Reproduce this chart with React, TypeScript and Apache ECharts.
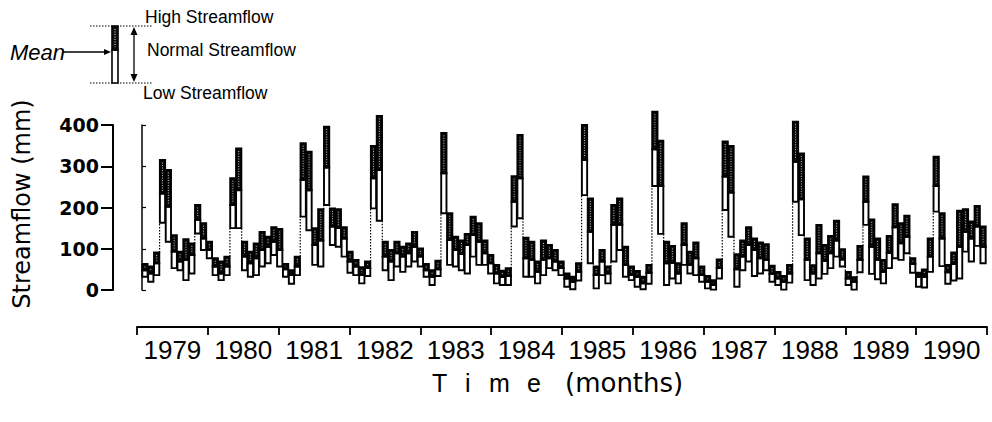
import React, { useEffect, useRef } from "react";
import * as echarts from "echarts";

const years = ["1979", "1980", "1981", "1982", "1983", "1984", "1985", "1986", "1987", "1988", "1989", "1990"];
const yTicks = [0, 100, 200, 300, 400];

// Monthly high streamflow (mm), Jan 1979 .. Dec 1990
const high = [
  63, 57, 91, 315, 291, 133, 93, 123, 113, 206, 162, 117,
  77, 69, 81, 271, 343, 117, 93, 113, 141, 129, 152, 148,
  63, 48, 81, 356, 335, 150, 196, 396, 198, 196, 152, 93,
  73, 55, 69, 349, 422, 117, 97, 117, 105, 113, 141, 101,
  63, 48, 71, 381, 186, 129, 120, 136, 178, 162, 120, 85,
  61, 47, 53, 276, 376, 127, 117, 69, 120, 109, 97, 69,
  40, 32, 65, 400, 222, 57, 97, 57, 206, 222, 105, 57,
  46, 32, 61, 432, 362, 117, 107, 65, 162, 93, 115, 57,
  34, 24, 74, 360, 349, 87, 120, 152, 125, 115, 111, 59,
  44, 34, 61, 408, 331, 125, 60, 158, 109, 131, 168, 99,
  44, 31, 107, 275, 171, 125, 73, 131, 208, 162, 180, 77,
  42, 50, 125, 323, 186, 61, 91, 192, 196, 166, 204, 154,
];

// Monthly mean streamflow (mm)
const mean = [
  48, 40, 65, 234, 202, 93, 69, 73, 85, 170, 125, 97,
  57, 40, 57, 206, 242, 81, 65, 77, 97, 105, 117, 97,
  50, 36, 57, 267, 242, 109, 120, 297, 154, 150, 125, 69,
  57, 36, 53, 271, 291, 81, 69, 89, 81, 89, 105, 81,
  48, 32, 50, 283, 121, 97, 87, 109, 133, 117, 89, 65,
  40, 32, 34, 214, 271, 77, 73, 44, 73, 77, 69, 53,
  28, 20, 44, 315, 141, 36, 69, 40, 158, 158, 61, 36,
  32, 16, 42, 341, 252, 65, 66, 40, 109, 61, 77, 36,
  20, 12, 53, 275, 236, 50, 81, 109, 97, 77, 73, 39,
  28, 20, 40, 311, 220, 73, 40, 89, 71, 89, 120, 74,
  28, 20, 73, 214, 105, 73, 44, 90, 152, 113, 129, 63,
  32, 32, 81, 252, 125, 43, 63, 105, 141, 125, 154, 105,
];

// Monthly low streamflow (mm)
const low = [
  32, 20, 36, 163, 117, 53, 48, 24, 40, 137, 97, 77,
  36, 24, 36, 150, 150, 48, 32, 36, 57, 65, 85, 57,
  32, 15, 36, 178, 145, 61, 57, 206, 109, 105, 81, 42,
  36, 16, 34, 198, 168, 48, 24, 57, 44, 57, 69, 57,
  32, 12, 34, 186, 61, 57, 48, 40, 81, 61, 61, 40,
  16, 12, 12, 154, 174, 32, 32, 16, 36, 53, 48, 36,
  8, 2, 23, 230, 65, 4, 36, 16, 69, 97, 32, 24,
  8, 2, 15, 252, 136, 12, 28, 16, 61, 40, 36, 20,
  4, 1, 28, 194, 129, 8, 48, 69, 34, 40, 48, 20,
  12, 1, 18, 214, 133, 24, 12, 28, 39, 53, 81, 57,
  12, 1, 43, 158, 39, 26, 16, 53, 77, 73, 89, 42,
  8, 6, 44, 190, 58, 15, 23, 28, 93, 69, 107, 65,
];

const months: string[] = [];
years.forEach((y) => {
  for (let m = 1; m <= 12; m++) months.push(`${y}-${m}`);
});

export default function App() {
  const ref = useRef<HTMLDivElement>(null);

  useEffect(() => {
    if (!ref.current) return;
    const chart = echarts.init(ref.current, undefined, { renderer: "svg" });

    const data = months.map((_, i) => [i, low[i], mean[i], high[i]]);

    const renderItem = (params: any, api: any) => {
      const i = params.dataIndex;
      const x = api.value(0);
      const pLow = api.coord([x, api.value(1)]);
      const pMean = api.coord([x, api.value(2)]);
      const pHigh = api.coord([x, api.value(3)]);
      const band = api.size([1, 0])[0];
      const bw = band * 0.9;
      const left = pLow[0] - bw / 2;
      const children: any[] = [];
      if (i > 0) {
        const pl = low[i - 1];
        const ph = high[i - 1];
        const bx = pLow[0] - band / 2;
        if (pl > high[i]) {
          children.push({
            type: "line",
            shape: { x1: bx, y1: api.coord([x, pl])[1], x2: bx, y2: pHigh[1] },
            style: { stroke: "#000", lineWidth: 1.2, lineDash: [1.5, 1.5] },
          });
        } else if (ph < low[i]) {
          children.push({
            type: "line",
            shape: { x1: bx, y1: api.coord([x, ph])[1], x2: bx, y2: pLow[1] },
            style: { stroke: "#000", lineWidth: 1.2, lineDash: [1.5, 1.5] },
          });
        }
      }
      children.push(
        {
          type: "rect",
          shape: { x: left, y: pMean[1], width: bw, height: pLow[1] - pMean[1] },
          style: { fill: "#fff", stroke: "#000", lineWidth: 1.9 },
        },
        {
          type: "rect",
          shape: { x: left, y: pHigh[1], width: bw, height: pMean[1] - pHigh[1] },
          style: { fill: "#0a0a0a", stroke: "#000", lineWidth: 1.9 },
        }
      );
      if (pMean[1] - pHigh[1] > 5) {
        children.push({
          type: "line",
          shape: { x1: pLow[0], y1: pHigh[1] + 2.5, x2: pLow[0], y2: pMean[1] - 2.5 },
          style: { stroke: "#fff", lineWidth: 0.9, lineDash: [1, 1.5], opacity: 0.8 },
        });
      }
      return { type: "group", children };
    };

    const black = "#000";
    const legendFont = "Liberation Sans, Arial, sans-serif";

    chart.setOption({
      animation: false,
      backgroundColor: "#fff",
      grid: [
        { left: 142, right: 6, top: 125, bottom: 132 },
        { left: 137, right: 5, top: 320, height: 7 },
      ],
      xAxis: [
        { type: "category", gridIndex: 0, data: months, show: false, boundaryGap: true },
        {
          type: "category",
          gridIndex: 1,
          data: years,
          position: "bottom",
          boundaryGap: true,
          axisLine: { show: true, lineStyle: { color: black, width: 1.8 } },
          axisTick: { show: true, interval: 0, length: 8, lineStyle: { color: black, width: 1.8 } },
          axisLabel: {
            interval: 0,
            color: black,
            fontSize: 26,
            fontFamily: "Liberation Sans, Arial, sans-serif",
            margin: 10,
          },
          splitLine: { show: false },
        },
      ],
      yAxis: [
        {
          type: "value",
          gridIndex: 0,
          position: "left",
          offset: 29,
          min: yTicks[0],
          max: yTicks[yTicks.length - 1],
          interval: 100,
          axisLine: { show: true, lineStyle: { color: black, width: 2 } },
          axisTick: { show: true, length: 12, lineStyle: { color: black, width: 2 } },
          axisLabel: {
            color: black,
            fontSize: 19,
            fontWeight: "bold",
            fontFamily: "DejaVu Sans, sans-serif",
            margin: 14,
          },
          splitLine: { show: false },
        },
        {
          type: "value",
          gridIndex: 0,
          position: "left",
          offset: 0,
          min: yTicks[0],
          max: yTicks[yTicks.length - 1],
          interval: 100,
          axisLine: { show: true, lineStyle: { color: black, width: 1.5 } },
          axisTick: { show: true, inside: true, length: 4, lineStyle: { color: black, width: 1.2 } },
          axisLabel: { show: false },
          splitLine: { show: false },
        },
        { type: "value", gridIndex: 1, show: false, min: 0, max: 1 },
      ],
      series: [
        {
          type: "custom",
          xAxisIndex: 0,
          yAxisIndex: 0,
          data,
          encode: { x: 0, y: [1, 2, 3] },
          renderItem,
          clip: false,
        },
      ],
      graphic: [
        // y-axis title
        {
          type: "text",
          x: 22,
          y: 204,
          rotation: Math.PI / 2,
          style: {
            text: "Streamflow (mm)",
            fontSize: 24,
            fontFamily: "DejaVu Sans, sans-serif",
            fill: black,
            align: "center",
            verticalAlign: "middle",
          },
        },
        // x-axis title
        { type: "text", x: 432, y: 383, style: { text: "T", fontSize: 25, fontFamily: legendFont, fill: black, verticalAlign: "middle" } },
        { type: "text", x: 465, y: 383, style: { text: "i", fontSize: 25, fontFamily: legendFont, fill: black, verticalAlign: "middle" } },
        { type: "text", x: 489, y: 383, style: { text: "m", fontSize: 25, fontFamily: legendFont, fill: black, verticalAlign: "middle" } },
        { type: "text", x: 527, y: 383, style: { text: "e", fontSize: 25, fontFamily: legendFont, fill: black, verticalAlign: "middle" } },
        { type: "text", x: 565, y: 383, style: { text: "(months)", fontSize: 26, fontFamily: "DejaVu Sans, sans-serif", fill: black, verticalAlign: "middle" } },
        // legend
        { type: "line", shape: { x1: 90, y1: 26, x2: 153, y2: 26 }, style: { stroke: black, lineWidth: 1, lineDash: [1.5, 1.5] } },
        { type: "line", shape: { x1: 90, y1: 83, x2: 153, y2: 83 }, style: { stroke: black, lineWidth: 1, lineDash: [1.5, 1.5] } },
        { type: "rect", shape: { x: 112, y: 50, width: 6, height: 33 }, style: { fill: "#fff", stroke: black, lineWidth: 1.6 } },
        { type: "rect", shape: { x: 112, y: 26, width: 6, height: 24 }, style: { fill: "#111", stroke: black, lineWidth: 1.6 } },
        { type: "line", shape: { x1: 115, y1: 29, x2: 115, y2: 47 }, style: { stroke: "#fff", lineWidth: 0.9, lineDash: [1, 1.5] } },
        { type: "line", shape: { x1: 134, y1: 31, x2: 134, y2: 78 }, style: { stroke: black, lineWidth: 1.3 } },
        { type: "polygon", shape: { points: [[134, 27], [130.5, 35], [137.5, 35]] }, style: { fill: black } },
        { type: "polygon", shape: { points: [[134, 82], [130.5, 74], [137.5, 74]] }, style: { fill: black } },
        { type: "line", shape: { x1: 63, y1: 52, x2: 106, y2: 52 }, style: { stroke: black, lineWidth: 1.3 } },
        { type: "polygon", shape: { points: [[111, 52], [104, 49], [104, 55]] }, style: { fill: black } },
        { type: "text", x: 10, y: 52, style: { text: "Mean", fontSize: 22, fontStyle: "italic", fontFamily: legendFont, fill: black, verticalAlign: "middle" } },
        { type: "text", x: 145, y: 17, style: { text: "High Streamflow", fontSize: 17.5, fontFamily: legendFont, fill: black, verticalAlign: "middle" } },
        { type: "text", x: 147, y: 50, style: { text: "Normal Streamflow", fontSize: 17.5, fontFamily: legendFont, fill: black, verticalAlign: "middle" } },
        { type: "text", x: 143, y: 93, style: { text: "Low Streamflow", fontSize: 17.5, fontFamily: legendFont, fill: black, verticalAlign: "middle" } },
      ],
    });

    return () => chart.dispose();
  }, []);

  return (
    <div
      ref={ref}
      style={{ position: "fixed", left: 0, top: 0, width: 992, height: 422, background: "#fff" }}
    />
  );
}
